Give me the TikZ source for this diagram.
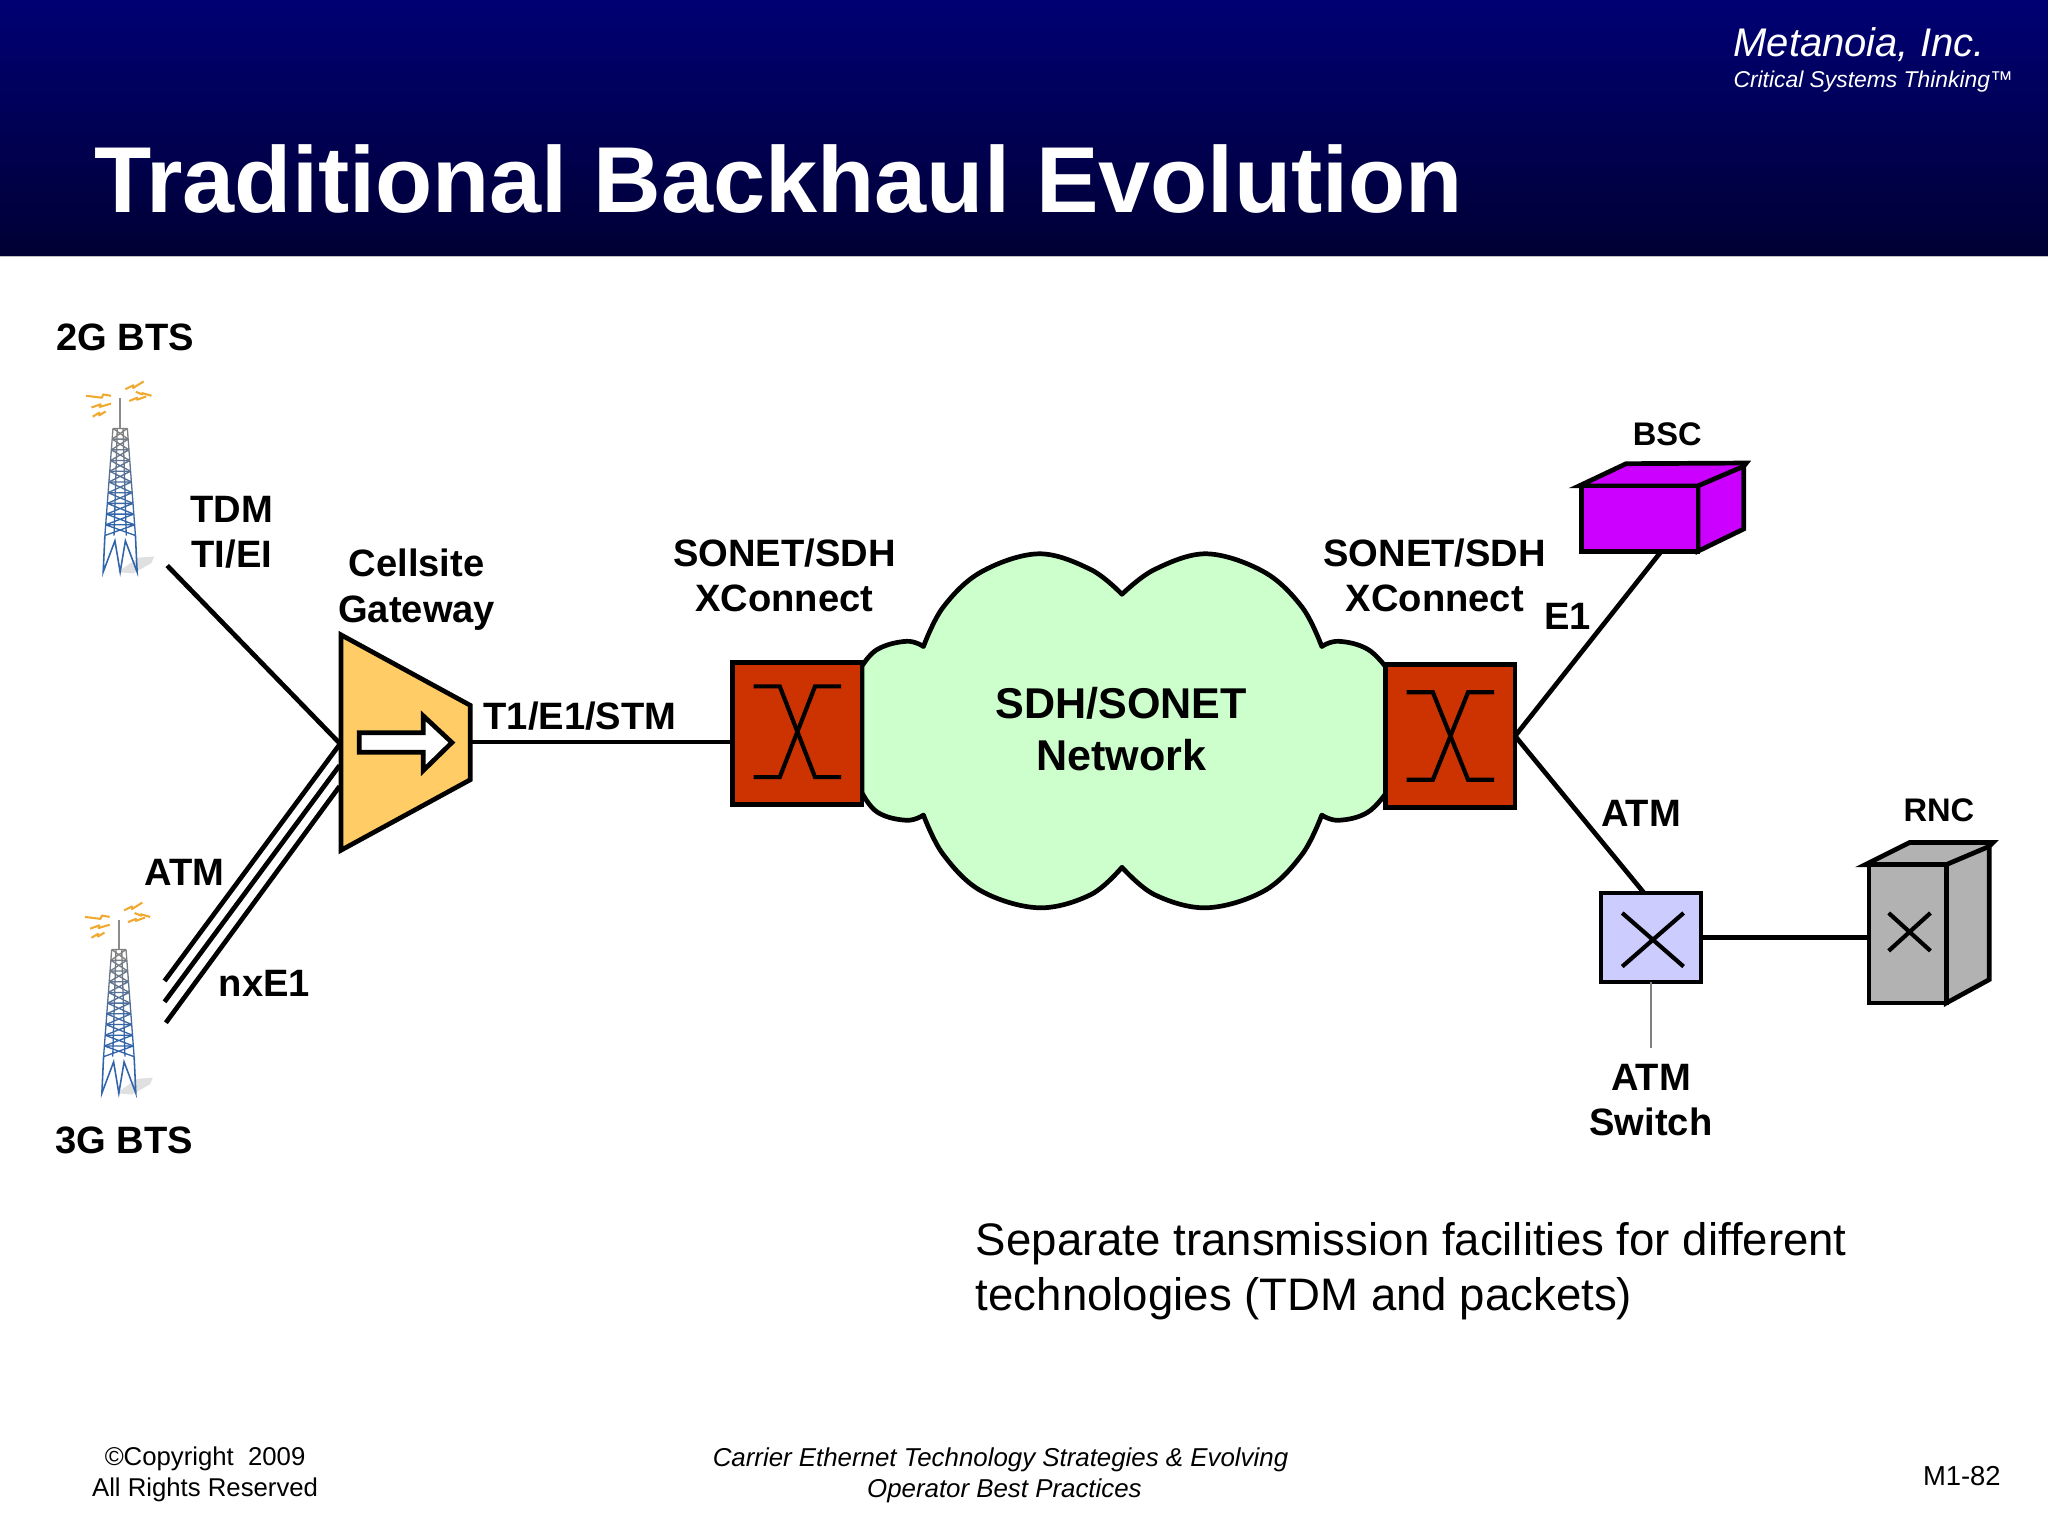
\documentclass[tikz,border=0pt]{standalone}
\usepackage{fontspec}
\setmainfont{Liberation Sans}
\definecolor{navytop}{RGB}{0,0,116}
\definecolor{navybot}{RGB}{0,0,52}
\definecolor{gwfill}{RGB}{255,204,102}
\definecolor{xcfill}{RGB}{204,51,0}
\definecolor{cloudfill}{RGB}{204,255,204}
\definecolor{bscfill}{RGB}{204,0,255}
\definecolor{swfill}{RGB}{204,204,255}
\definecolor{rncfill}{RGB}{178,178,178}
\definecolor{boltc}{RGB}{240,170,50}
\definecolor{towerb}{RGB}{50,100,170}
\tikzset{
  lbl/.style={font=\bfseries\fontsize{29.2}{34.6}\selectfont,align=center,inner sep=0pt,text=black},
  lblsm/.style={font=\bfseries\fontsize{25}{30}\selectfont,align=center,inner sep=0pt},
  wire/.style={line width=3.6pt,draw=black},
  thick box/.style={draw=black,line width=3.6pt,inner sep=0pt,outer sep=0pt},
  xcbox/.style={thick box,fill=xcfill,minimum width=99pt,minimum height=109pt},
  xsym/.style={line width=3.2pt,draw=black},
  bolt/.style={draw=boltc,line width=1.6pt,line join=round},
  foot/.style={font=\fontsize{19.7}{24}\selectfont,inner sep=0pt,align=center},
}
\newcommand{\drawtower}[2]{%
  \begin{scope}[shift={(#1,#2)}]
    \fill[black!12] (-2,110) -- (14,99) -- (26,98) -- (24,103) -- (10,111) -- cycle;
    \draw[gray!90,line width=1.2pt] (0,-23) -- (0,0);
    \foreach \i in {0,...,9}{
      \pgfmathsetmacro{\ya}{\i*8.2}
      \pgfmathsetmacro{\yb}{(\i+1)*8.2}
      \pgfmathsetmacro{\wa}{5.5+\i*0.62}
      \pgfmathsetmacro{\wb}{5.5+(\i+1)*0.62}
      \pgfmathsetmacro{\mixp}{min(100,\i*13)}
      \draw[towerb!\mixp!gray,line width=1pt]
        (-\wa,\ya) -- (-\wb,\yb) (\wa,\ya) -- (\wb,\yb)
        (-\wa,\ya) -- (\wa,\ya)
        (-\wa,\ya) -- (\wb,\yb) (\wa,\ya) -- (-\wb,\yb)
        (-\wa*0.4,\ya) -- (-\wb*0.4,\yb) (\wa*0.4,\ya) -- (\wb*0.4,\yb);
    }
    \draw[towerb,line width=1.2pt]
      (-11.7,82) -- (-13,110) -- (-4,86) -- (0,110) -- (4,86) -- (13,110) -- (11.7,82);
    \draw[bolt] (-26,-25) -- (-14,-23.5) -- (-13,-26) -- (-7,-25);
    \draw[bolt] (-22,-16) -- (-15,-18.5) -- (-15.5,-16.5) -- (-7,-19);
    \draw[bolt] (-21,-9) -- (-16,-12) -- (-16,-10) -- (-11,-13);
    \draw[bolt] (4,-30) -- (10,-33) -- (10,-31) -- (18,-36);
    \draw[bolt] (7,-21) -- (13,-23.5) -- (13,-22) -- (20,-24.5);
    \draw[bolt] (12,-28) -- (17,-26) -- (17,-27) -- (24,-25);
  \end{scope}}
\begin{document}
\begin{tikzpicture}[x=1pt,y=-1pt]
\useasboundingbox (0,0) rectangle (1568,1176);
\fill[white] (0,0) rectangle (1568,1176);
% header
\fill[top color=navytop,bottom color=navybot,draw=none] (0,0) rectangle (1568,196);
\draw[draw=black!25,line width=0.6pt] (0,196) -- (1568,196);
\node[anchor=base west,inner sep=0pt,text=white,font=\bfseries\fontsize{71.7}{80}\selectfont] (title) at (72,163) {Traditional Backhaul Evolution};
\node[anchor=base west,inner sep=0pt,text=white,font=\itshape\fontsize{30.6}{34}\selectfont] (metan) at (1327,43) {Metanoia, Inc.};
\node[anchor=base west,inner sep=0pt,text=white,font=\itshape\fontsize{17.5}{22}\selectfont] (crit) at (1327,67) {Critical Systems Thinking™};
% towers
\drawtower{92}{328}
\drawtower{91}{727}
% cloud
\draw[fill=cloudfill,draw=black,line width=3.6pt,line join=round]
  plot[smooth,tension=.7] coordinates {(660,510) (672,497) (694,491) (707,495)}
  -- plot[smooth,tension=.6] coordinates {(707,495) (722,465) (751,438) (795,424) (835,436) (859,455)}
  -- plot[smooth,tension=.6] coordinates {(859,455) (884,436) (924,424) (968,438) (997,465) (1012,495)}
  -- plot[smooth,tension=.7] coordinates {(1012,495) (1025,491) (1047,497) (1062,512)}
  -- (1062,606)
  -- plot[smooth,tension=.7] coordinates {(1062,606) (1047,622) (1025,628) (1012,624)}
  -- plot[smooth,tension=.6] coordinates {(1012,624) (997,654) (968,682) (924,695) (884,685) (859,664)}
  -- plot[smooth,tension=.6] coordinates {(859,664) (835,685) (795,695) (751,682) (722,654) (707,624)}
  -- plot[smooth,tension=.7] coordinates {(707,624) (694,628) (672,622) (660,607)}
  -- cycle;
\node[font=\bfseries\fontsize{33}{40}\selectfont,align=center,inner sep=0pt] (cloudlbl) at (858.5,558) {SDH/SONET\\Network};
% gateway
\draw[fill=gwfill,thick box] (261,486) -- (360,540) -- (360,597) -- (261,651) -- cycle;
\coordinate (gwin1) at (260,569);
\coordinate (gwin2) at (260,570);
\coordinate (gwin3) at (260,586);
\coordinate (gwin4) at (260,602);
\coordinate (gwout) at (360,568);
\draw[fill=white,draw=black,line width=3.6pt,miter limit=10] (275,561) -- (324,561) -- (324,548) -- (346,568.5) -- (324,590) -- (324,576) -- (275,576) -- cycle;
% cross-connects
\node[xcbox] (xcl) at (610.5,561.5) {};
\node[xcbox] (xcr) at (1110.5,563.5) {};
\draw[xsym] (577,525.5) -- (597,525.5) -- (624,595) -- (644,595);
\draw[xsym] (644,525.5) -- (624,525.5) -- (597,595) -- (577,595);
\draw[xsym] (1077,530) -- (1097,530) -- (1124,597) -- (1144,597);
\draw[xsym] (1144,530) -- (1124,530) -- (1097,597) -- (1077,597);
% BSC
\draw[fill=bscfill,draw=black,line width=3.6pt] (1209,372) -- (1245,355) -- (1337,354.5) -- (1335,357) -- (1335,405) -- (1300,422) -- (1300,372) -- cycle;
\node[thick box,fill=bscfill,minimum width=89pt,minimum height=50pt] (bsc) at (1255.5,397) {};
\draw[line width=3.6pt] (1300,372) -- (1335,357);
% ATM switch
\node[thick box,line width=3.2pt,fill=swfill,minimum width=76pt,minimum height=68pt] (sw) at (1264,718) {};
\draw[xsym] (1242,699) -- (1289,740) (1289,699) -- (1242,740);
\coordinate (swtop) at (1259,684);
\coordinate (bscb) at (1272,422);
\coordinate (swtick) at (1264,802);
% RNC
\draw[fill=rncfill,draw=black,line width=3.6pt] (1428,662) -- (1462,645) -- (1526,645) -- (1523,648) -- (1523,750) -- (1490,768) -- (1490,662) -- cycle;
\node[thick box,fill=rncfill,minimum width=59pt,minimum height=106pt] (rnc) at (1460.5,715) {};
\draw[line width=3.6pt] (1490,662) -- (1523,648);
\draw[xsym] (1446,699) -- (1478,728) (1478,699) -- (1446,728);
% connectors
\coordinate (tdmend) at (128,433);
\coordinate (a1) at (126,751);
\coordinate (a2) at (126,767);
\coordinate (a3) at (127,783);
\draw[wire] (tdmend) -- (gwin1);
\draw[wire] (a1) -- (gwin2);
\draw[wire] (a2) -- (gwin3);
\draw[wire] (a3) -- (gwin4);
\draw[wire] (gwout) -- (xcl.west |- gwout);
\draw[wire] (xcr.east) -- (bscb);
\draw[wire] (xcr.east) -- (swtop);
\draw[wire] (sw.east) -- (rnc.west |- sw.east);
\draw[draw=gray,line width=1pt] (sw.south) -- (swtick);
% labels
\node[lbl] (l2g) at (96,258) {2G BTS};
\node[lbl] (l3g) at (95,873) {3G BTS};
\node[lbl] (ltdm) at (177.5,407.5) {TDM\\TI/EI};
\node[lbl] (lcell) at (319,451.5) {Cellsite\\Gateway};
\node[lbl,anchor=west] (lt1) at (370,548) {T1/E1/STM};
\node[lbl] (lsonl) at (600.5,440.5) {SONET/SDH\\XConnect};
\node[lbl] (lsonr) at (1098.5,440.5) {SONET/SDH\\XConnect};
\node[lbl] (le1) at (1200,472) {E1};
\node[lbl] (latmr) at (1256.5,622.5) {ATM};
\node[lbl] (latml) at (141.5,668) {ATM};
\node[lbl] (lnx) at (202.5,753) {nxE1};
\node[lbl] (lsw) at (1264,842.5) {ATM\\Switch};
\node[lblsm] (lbsc) at (1276.5,332.5) {BSC};
\node[lblsm] (lrnc) at (1484.5,620.5) {RNC};
% note
\node[anchor=base west,inner sep=0pt,align=left,font=\fontsize{34.9}{42}\selectfont] (note) at (747,1003) {Separate transmission facilities for different\\technologies (TDM and packets)};
% footer
\node[foot] (fcopy) at (157,1129) {©Copyright\ \ 2009\\All Rights Reserved};
\node[foot,font=\itshape\fontsize{19.8}{24}\selectfont] (fmid) at (766,1129.5) {Carrier Ethernet Technology Strategies \& Evolving\\\hspace*{6pt}Operator Best Practices};
\node[foot,anchor=east,font=\fontsize{21}{24}\selectfont] (fpage) at (1532,1130) {M1-82};
\end{tikzpicture}
\end{document}
